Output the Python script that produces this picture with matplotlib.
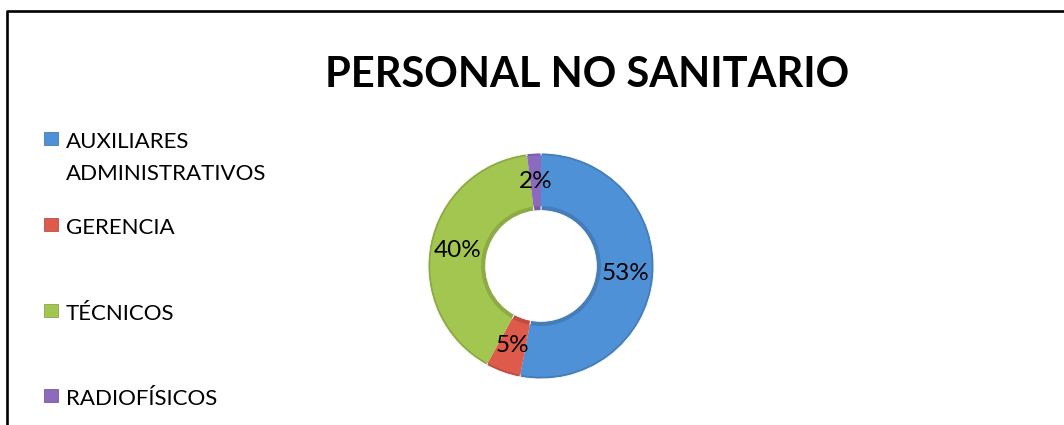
import matplotlib
matplotlib.use("Agg")
import matplotlib.pyplot as plt
import matplotlib.colors as mcolors
from matplotlib.lines import Line2D
from matplotlib.patches import Rectangle

plt.rcParams["font.family"] = ["Lato", "DejaVu Sans"]

# datos del gráfico
categorias = ["AUXILIARES\nADMINISTRATIVOS", "GERENCIA", "TÉCNICOS", "RADIOFÍSICOS"]
porcentajes = [53, 5, 40, 2]
colores = ["#4f91d6", "#de5a4a", "#a3c650", "#8c6bbf"]
titulo = "PERSONAL NO SANITARIO"

W, H = 1064, 425
fig = plt.figure(figsize=(W / 100, H / 100), dpi=100)


def oscurecer(c, f=0.78):
    r, g, b = mcolors.to_rgb(c)
    return (r * f, g * f, b * f)


# marco del área del gráfico (borde izquierdo y superior)
fig.add_artist(Line2D([6.5 / W, 6.5 / W, 1.0], [0.0, 1 - 10.5 / H, 1 - 10.5 / H],
                      transform=fig.transFigure, color="black", lw=1.9))

fig.text(587 / W, 1 - 87 / H, titulo, ha="center", va="baseline",
         fontsize=30, fontweight="bold", color="black")

# anillo con un pequeño biselado en los bordes
cx, cy, r = 541, 266, 113
ax = fig.add_axes([(cx - r) / W, (H - cy - r) / H, 2 * r / W, 2 * r / H])
ax.pie(porcentajes, colors=[oscurecer(c, 0.86) for c in colores], startangle=90,
       counterclock=False, radius=1.0,
       wedgeprops=dict(width=0.51, edgecolor="white", linewidth=0.6))
wedges, _, autotexts = ax.pie(
    porcentajes, colors=colores, startangle=90, counterclock=False,
    radius=0.98, wedgeprops=dict(width=0.45, edgecolor="none"),
    autopct=lambda p: f"{p:.0f}%", pctdistance=0.765,
    textprops=dict(fontsize=17.5, color="black"),
)
ax.set_xlim(-1, 1)
ax.set_ylim(-1, 1)
ax.set_aspect("equal")
ax.axis("off")

# leyenda a la izquierda
leyenda_base = [148, 234, 320, 405]
for cat, col, y in zip(categorias, colores, leyenda_base):
    fig.add_artist(Rectangle((44 / W, 1 - (y - 3) / H), 14 / W, 13 / H,
                             transform=fig.transFigure, facecolor=col,
                             edgecolor=oscurecer(col, 0.85), linewidth=0.6))
    for i, linea in enumerate(cat.split("\n")):
        fig.text(66 / W, 1 - (y + 32 * i) / H, linea, ha="left", va="baseline",
                 fontsize=16, color="black")

fig.savefig("out.png", dpi=100, facecolor="white")
